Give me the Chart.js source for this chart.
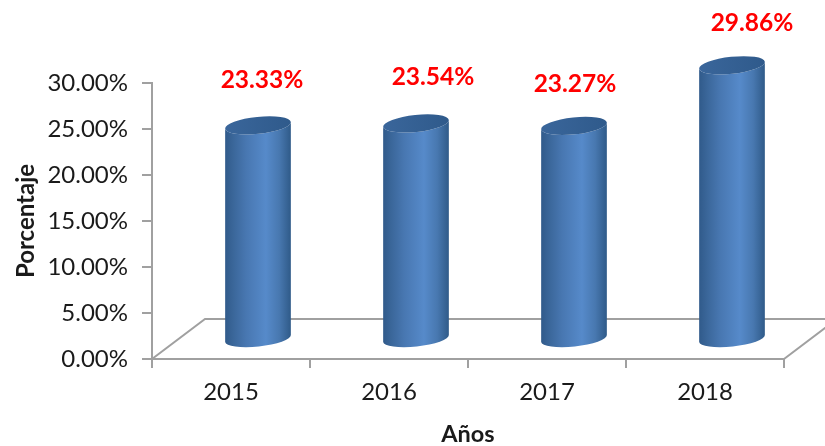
<!DOCTYPE html>
<html>
<head>
<meta charset="utf-8">
<style>html,body{margin:0;padding:0;background:#fff}#w{width:825px;height:446px}</style>
<script src="https://cdn.jsdelivr.net/npm/chart.js@4"></script>
</head>
<body>
<div id="w"><canvas id="c"></canvas></div>
<script>
const years = ['2015', '2016', '2017', '2018'];
const percentages = [23.33, 23.54, 23.27, 29.86];
const yTickStep = 5;
const yMax = 30;
const yTitle = 'Porcentaje';
const xTitle = 'Años';

// Appearance only
const labelDx = [31, 44, 28, 47];
const labelDy = [-64, -65, -61, -61];
const depthX = 27, depthY = 19, backDepthX = 53, backDepthY = 40;
const tilt = -6 * Math.PI / 180, ry = 8.5;
const axisColor = '#a0a0a0', textColor = '#1a1a1a';
const fontFamily = 'Lato, "Noto Sans", sans-serif';

const floorPlugin = {
  id: 'floor',
  beforeDatasetsDraw(chart) {
    const {ctx, chartArea: a} = chart;
    ctx.save();
    ctx.strokeStyle = axisColor;
    ctx.lineWidth = 2;
    ctx.beginPath();
    ctx.moveTo(a.left, a.bottom);
    ctx.lineTo(a.left + backDepthX, a.bottom - backDepthY);
    ctx.lineTo(a.right + backDepthX, a.bottom - backDepthY);
    ctx.lineTo(a.right, a.bottom);
    ctx.stroke();
    ctx.restore();
  }
};

function cylinder(ctx, bar) {
  const cx = bar.x + depthX, rx = bar.width / 2;
  const topY = bar.y - depthY, baseY = bar.base - depthY;
  const dx = rx * Math.cos(tilt), dy = rx * Math.sin(tilt);
  const g = ctx.createLinearGradient(cx - rx, 0, cx + rx, 0);
  g.addColorStop(0, '#305a8a');
  g.addColorStop(0.12, '#3a6699');
  g.addColorStop(0.32, '#4877b1');
  g.addColorStop(0.62, '#568aca');
  g.addColorStop(0.82, '#4878b0');
  g.addColorStop(1, '#2f5a88');
  ctx.beginPath();
  ctx.moveTo(cx - dx, topY - dy);
  ctx.lineTo(cx - dx, baseY - dy);
  ctx.ellipse(cx, baseY - 0.5, rx, ry - 0.5, tilt, Math.PI, 0, true);
  ctx.lineTo(cx + dx, topY + dy);
  ctx.ellipse(cx, topY, rx, ry, tilt, 0, Math.PI, false);
  ctx.closePath();
  ctx.fillStyle = g;
  ctx.fill();
  const t = ctx.createLinearGradient(cx - rx, 0, cx + rx, 0);
  t.addColorStop(0, '#3a669b');
  t.addColorStop(1, '#2f5a8b');
  ctx.beginPath();
  ctx.ellipse(cx, topY, rx, ry, tilt, 0, Math.PI * 2);
  ctx.fillStyle = t;
  ctx.fill();
}

const cylinderPlugin = {
  id: 'cylinder',
  beforeDatasetDraw(chart, args) {
    const meta = chart.getDatasetMeta(args.index);
    const {ctx} = chart;
    ctx.save();
    meta.data.forEach(bar => cylinder(ctx, bar));
    ctx.restore();
    return false;
  },
  afterDatasetsDraw(chart) {
    const {ctx} = chart;
    const meta = chart.getDatasetMeta(0);
    ctx.save();
    ctx.font = 'bold 24.5px ' + fontFamily;
    ctx.fillStyle = '#ff0000';
    ctx.textAlign = 'center';
    ctx.textBaseline = 'middle';
    meta.data.forEach((bar, i) => {
      ctx.fillText(percentages[i].toFixed(2) + '%', bar.x + labelDx[i], bar.y + labelDy[i]);
    });
    ctx.restore();
  }
};

new Chart(document.getElementById('c'), {
  type: 'bar',
  data: {
    labels: years,
    datasets: [{
      data: percentages,
      backgroundColor: '#4f81bd',
      barPercentage: 1,
      categoryPercentage: 0.418
    }]
  },
  options: {
    responsive: true,
    maintainAspectRatio: false,
    animation: false,
    layout: {padding: {top: 83, right: 41, left: 0, bottom: 0}},
    plugins: {legend: {display: false}, tooltip: {enabled: false}},
    scales: {
      x: {
        afterFit(s) { s.height = 87; },
        grid: {drawOnChartArea: false, color: axisColor, lineWidth: 2, tickLength: 9},
        border: {color: axisColor, width: 2},
        ticks: {color: textColor, font: {family: fontFamily, size: 24}, padding: 10, maxRotation: 0},
        title: {display: true, text: xTitle, color: textColor, font: {family: fontFamily, size: 23.5, weight: 'bold'}, padding: {top: 0, bottom: -3}}
      },
      y: {
        min: 0,
        max: yMax,
        afterFit(s) { s.width = 152; },
        grid: {drawOnChartArea: false, color: axisColor, lineWidth: 2, tickLength: 10},
        border: {color: axisColor, width: 2},
        ticks: {
          stepSize: yTickStep,
          color: textColor,
          font: {family: fontFamily, size: 24},
          padding: 14,
          callback: v => v.toFixed(2) + '%'
        },
        title: {display: true, text: yTitle, color: textColor, font: {family: fontFamily, size: 24, weight: 'bold'}, padding: {top: 12, bottom: 0}}
      }
    }
  },
  plugins: [floorPlugin, cylinderPlugin]
});
</script>
</body>
</html>
